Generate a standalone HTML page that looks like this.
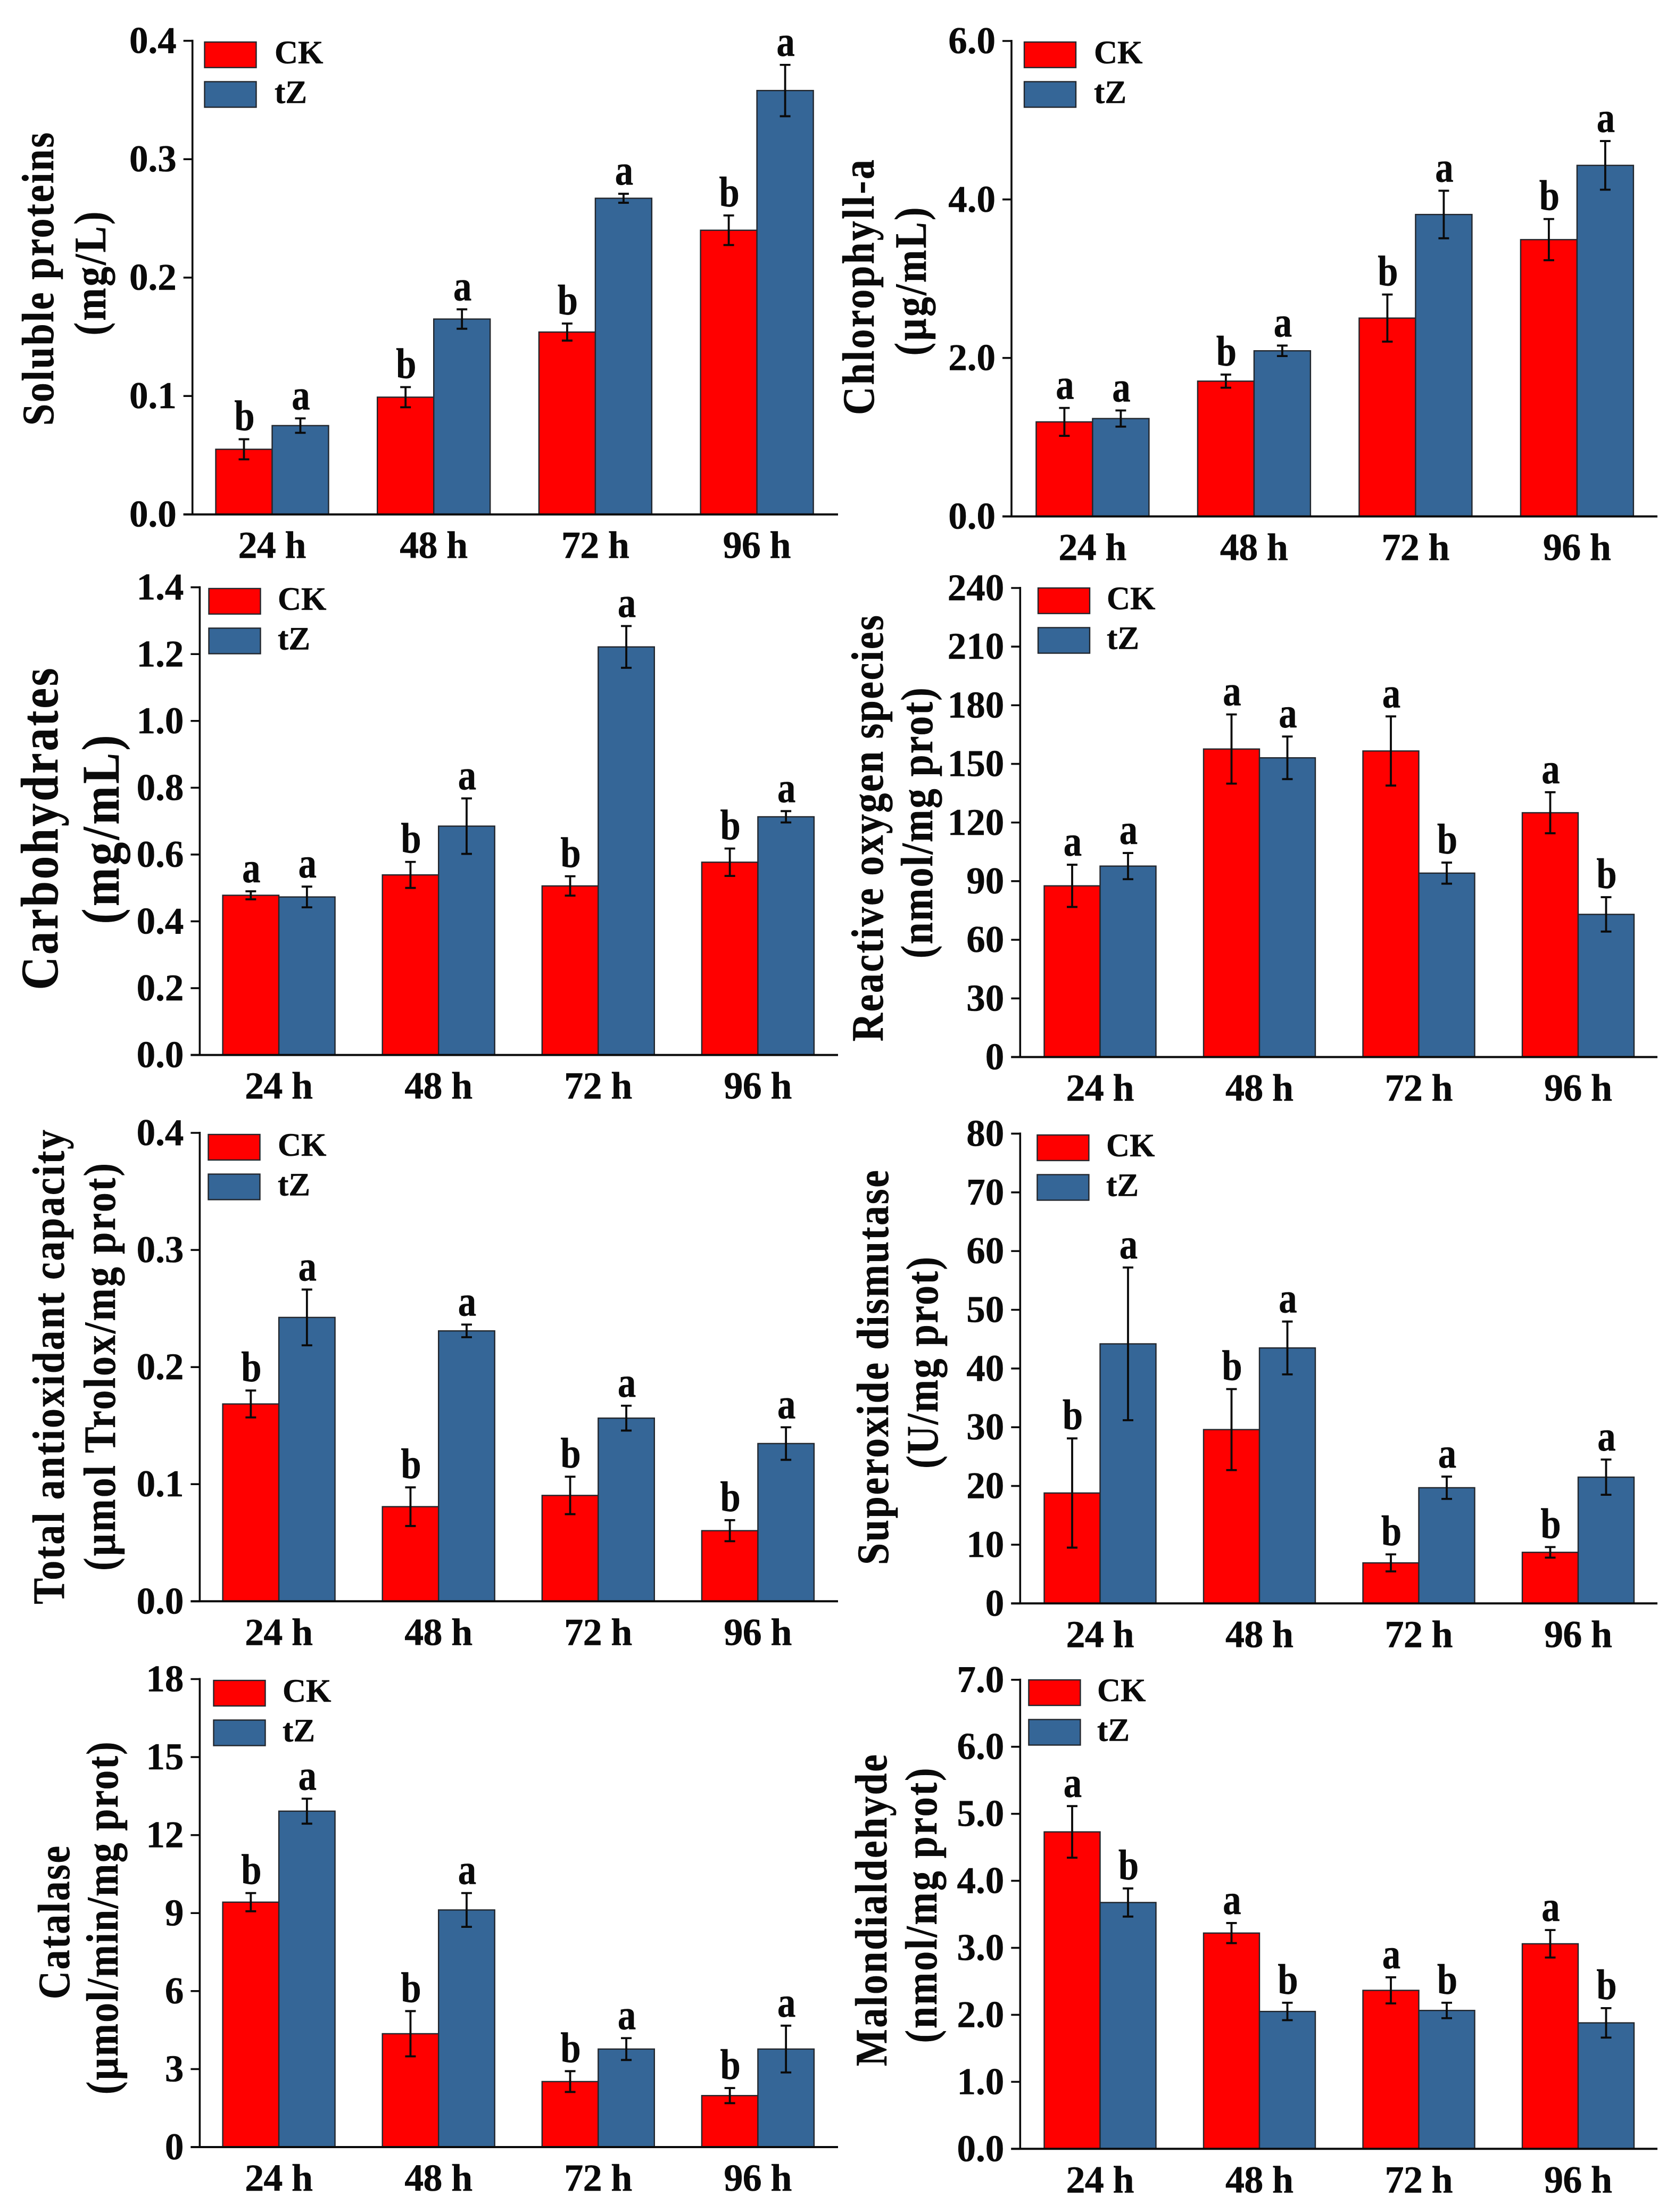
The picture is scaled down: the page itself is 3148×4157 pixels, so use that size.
<!DOCTYPE html>
<html lang="en">
<head>
<meta charset="utf-8">
<title>Eight bar charts comparing CK and tZ treatments at 24 to 96 h</title>
<style>
html,body{margin:0;padding:0;background:#fff;}
svg{display:block;}
text{font-family:"Liberation Serif","Times New Roman",serif;font-weight:bold;fill:#0a0a0a;stroke:#0a0a0a;stroke-width:0.5px;}
</style>
</head>
<body>
<svg id="figure" xmlns="http://www.w3.org/2000/svg" width="3148" height="4157" viewBox="0 0 3148 4157"></svg>
<script>
const categories = ['24 h', '48 h', '72 h', '96 h'];
const seriesNames = ['CK', 'tZ'];

const proteinTicks = ['0.0', '0.1', '0.2', '0.3', '0.4'];
const proteinCK = [0.055, 0.099, 0.154, 0.240];
const proteinTZ = [0.075, 0.165, 0.267, 0.358];
const proteinCKErr = [0.0085, 0.0085, 0.0072, 0.0125];
const proteinTZErr = [0.0061, 0.0082, 0.0038, 0.0217];
const proteinCKLetters = ['b', 'b', 'b', 'b'];
const proteinTZLetters = ['a', 'a', 'a', 'a'];

const chlorophyllTicks = ['0.0', '2.0', '4.0', '6.0'];
const chlorophyllCK = [1.193, 1.707, 2.503, 3.493];
const chlorophyllTZ = [1.235, 2.09, 3.81, 4.43];
const chlorophyllCKErr = [0.176, 0.083, 0.297, 0.26];
const chlorophyllTZErr = [0.102, 0.066, 0.30, 0.307];
const chlorophyllCKLetters = ['a', 'b', 'b', 'b'];
const chlorophyllTZLetters = ['a', 'a', 'a', 'a'];

const carbTicks = ['0.0', '0.2', '0.4', '0.6', '0.8', '1.0', '1.2', '1.4'];
const carbCK = [0.478, 0.539, 0.506, 0.577];
const carbTZ = [0.473, 0.685, 1.2215, 0.713];
const carbCKErr = [0.012, 0.039, 0.029, 0.041];
const carbTZErr = [0.031, 0.083, 0.0625, 0.017];
const carbCKLetters = ['a', 'b', 'b', 'b'];
const carbTZLetters = ['a', 'a', 'a', 'a'];

const rosTicks = ['0', '30', '60', '90', '120', '150', '180', '210', '240'];
const rosCK = [87.6, 157.6, 156.6, 125];
const rosTZ = [97.7, 153.1, 94.1, 73];
const rosCKErr = [10.8, 17.7, 17.7, 10.5];
const rosTZErr = [6.7, 10.9, 5.4, 8.8];
const rosCKLetters = ['a', 'a', 'a', 'a'];
const rosTZLetters = ['a', 'a', 'b', 'b'];

const taocTicks = ['0.0', '0.1', '0.2', '0.3', '0.4'];
const taocCK = [0.1685, 0.0808, 0.0904, 0.0603];
const taocTZ = [0.2424, 0.2309, 0.1564, 0.1347];
const taocCKErr = [0.0115, 0.0165, 0.016, 0.009];
const taocTZErr = [0.0238, 0.0054, 0.0106, 0.0139];
const taocCKLetters = ['b', 'b', 'b', 'b'];
const taocTZLetters = ['a', 'a', 'a', 'a'];

const sodTicks = ['0', '10', '20', '30', '40', '50', '60', '70', '80'];
const sodCK = [18.8, 29.6, 6.9, 8.7];
const sodTZ = [44.2, 43.5, 19.7, 21.5];
const sodCKErr = [9.3, 6.9, 1.45, 0.9];
const sodTZErr = [13, 4.5, 1.9, 3];
const sodCKLetters = ['b', 'b', 'b', 'b'];
const sodTZLetters = ['a', 'a', 'a', 'a'];

const catTicks = ['0', '3', '6', '9', '12', '15', '18'];
const catCK = [9.42, 4.36, 2.52, 1.98];
const catTZ = [12.92, 9.12, 3.77, 3.77];
const catCKErr = [0.35, 0.87, 0.4, 0.29];
const catTZErr = [0.48, 0.65, 0.42, 0.9];
const catCKLetters = ['b', 'b', 'b', 'b'];
const catTZLetters = ['a', 'a', 'a', 'a'];

const mdaTicks = ['0.0', '1.0', '2.0', '3.0', '4.0', '5.0', '6.0', '7.0'];
const mdaCK = [4.73, 3.22, 2.365, 3.06];
const mdaTZ = [3.676, 2.05, 2.065, 1.88];
const mdaCKErr = [0.385, 0.15, 0.195, 0.205];
const mdaTZErr = [0.21, 0.13, 0.115, 0.22];
const mdaCKLetters = ['a', 'a', 'a', 'a'];
const mdaTZLetters = ['b', 'b', 'b', 'b'];

const svgNS = 'http://www.w3.org/2000/svg';
const figure = document.getElementById('figure');
const RED = '#ff0000', BLUE = '#356697', EDGE = '#22262c', INK = '#0a0a0a';
const TITLE_SQUEEZE = 0.87;
const LETTER_SQUEEZE = 0.86;

function make(parent, tag, attrs, content) {
  const node = document.createElementNS(svgNS, tag);
  for (const k in attrs) node.setAttribute(k, attrs[k]);
  if (content !== undefined) node.textContent = content;
  parent.appendChild(node);
  return node;
}

function drawPanel(p) {
  const group = make(figure, 'g', {});
  
  

  const lo = parseFloat(p.ticks[0]);
  const hi = parseFloat(p.ticks[p.ticks.length - 1]);
  const yScale = function (v) { return p.bottom - (v - lo) / (hi - lo) * (p.bottom - p.top); };
  const xScale = function (i) { return p.barLeft + i * p.pitch; };

  p.title.forEach(function (t, i) {
    const title = make(group, 'text', {
      x: 0, y: 0, 'font-size': t.size, 'text-anchor': 'middle',
      textLength: t.len / TITLE_SQUEEZE, lengthAdjust: 'spacing',
      transform: 'translate(' + t.x + ' ' + t.cy + ') rotate(-90) scale(' + TITLE_SQUEEZE + ' 1)'
    }, t.text);
    
    
  });

  categories.forEach(function (cat, i) {
    [0, 1].forEach(function (s) {
      const vals = s === 0 ? p.ck : p.tz;
      const errs = s === 0 ? p.ckErr : p.tzErr;
      const lets = s === 0 ? p.ckLetters : p.tzLetters;
      const x = xScale(i) + s * p.barW;
      const yTop = yScale(vals[i]);
      const cx = x + p.barW / 2;
      const tag = seriesNames[s].toLowerCase() + '-' + cat.replace(' ', '-');

      const bar = make(group, 'rect', {
        x: x, y: yTop, width: p.barW, height: p.bottom - yTop,
        fill: s === 0 ? RED : BLUE, stroke: EDGE, 'stroke-width': 2.4
      });
      
      

      const eTop = yScale(vals[i] + errs[i]);
      const eBot = yScale(vals[i] - errs[i]);
      const err = make(group, 'path', {
        d: 'M' + (cx - 10) + ' ' + eTop + 'H' + (cx + 10) + 'M' + cx + ' ' + eTop + 'V' + eBot + 'M' + (cx - 10) + ' ' + eBot + 'H' + (cx + 10),
        fill: 'none', stroke: INK, 'stroke-width': 3.8
      });
      
      

      const letter = make(group, 'text', {
        x: 0, y: 0, 'font-size': 80, 'text-anchor': 'middle',
        transform: 'translate(' + (cx + 1) + ' ' + (eTop - 17) + ') scale(' + LETTER_SQUEEZE + ' 1)'
      }, lets[i]);
      
      
    });

    const label = make(group, 'text', {
      x: xScale(i) + p.barW, y: p.bottom + 82, 'font-size': 72,
      'text-anchor': 'middle', textLength: 128, lengthAdjust: 'spacing'
    }, cat);
    
    
  });

  const yAxis = make(group, 'line', { x1: p.axisX, x2: p.axisX, y1: p.top - 2, y2: p.bottom, stroke: INK, 'stroke-width': 3.6 });
  
  

  const xAxis = make(group, 'line', { x1: p.axisX - 17, x2: p.axisEnd, y1: p.bottom, y2: p.bottom, stroke: INK, 'stroke-width': 4 });
  
  

  p.ticks.forEach(function (tick) {
    const y = yScale(parseFloat(tick));
    const mark = make(group, 'line', { x1: p.axisX - 17, x2: p.axisX, y1: y, y2: y, stroke: INK, 'stroke-width': 3.6 });
    
    
    const label = make(group, 'text', {
      x: p.axisX - 30, y: y + 23, 'font-size': 71, 'text-anchor': 'end'
    }, tick);
    
    
  });

  seriesNames.forEach(function (series, s) {
    const top = p.legendY + s * 74.5;
    const swatch = make(group, 'rect', {
      x: p.legendX, y: top, width: 97, height: 48,
      fill: s === 0 ? RED : BLUE, stroke: EDGE, 'stroke-width': 2.4
    });
    
    
    const text = make(group, 'text', {
      x: p.legendTextX - 2, y: top + 40, 'font-size': 61
    }, series);
    
    
  });
}

const panels = [
  { name: 'soluble-proteins', ticks: proteinTicks, ck: proteinCK, tz: proteinTZ, ckErr: proteinCKErr, tzErr: proteinTZErr, ckLetters: proteinCKLetters, tzLetters: proteinTZLetters,
    axisX: 361.7, top: 76.7, bottom: 966.7, axisEnd: 1575, barLeft: 405.5, pitch: 303.7, barW: 106, legendX: 384.5, legendTextX: 518, legendY: 79,
    title: [{ text: 'Soluble proteins', x: 100, cy: 524.5, len: 551, size: 85 }, { text: '(mg/L)', x: 198, cy: 514, len: 233, size: 85 }] },
  { name: 'chlorophyll-a', ticks: chlorophyllTicks, ck: chlorophyllCK, tz: chlorophyllTZ, ckErr: chlorophyllCKErr, tzErr: chlorophyllTZErr, ckLetters: chlorophyllCKLetters, tzLetters: chlorophyllTZLetters,
    axisX: 1901, top: 77, bottom: 970.5, axisEnd: 3115, barLeft: 1947.4, pitch: 303.5, barW: 106, legendX: 1925, legendTextX: 2058, legendY: 79,
    title: [{ text: 'Chlorophyll-a', x: 1642, cy: 540, len: 480, size: 85 }, { text: '(\u00b5g/mL)', x: 1740, cy: 529, len: 279, size: 85 }] },
  { name: 'carbohydrates', ticks: carbTicks, ck: carbCK, tz: carbTZ, ckErr: carbCKErr, tzErr: carbTZErr, ckLetters: carbCKLetters, tzLetters: carbTZLetters,
    axisX: 375.4, top: 1103.7, bottom: 1982.6, axisEnd: 1575, barLeft: 418.6, pitch: 300.1, barW: 105.5, legendX: 392.5, legendTextX: 524, legendY: 1106,
    title: [{ text: 'Carbohydrates', x: 108, cy: 1558, len: 605, size: 100 }, { text: '(mg/mL)', x: 223, cy: 1559, len: 355, size: 100 }] },
  { name: 'reactive-oxygen-species', ticks: rosTicks, ck: rosCK, tz: rosTZ, ckErr: rosCKErr, tzErr: rosTZErr, ckLetters: rosCKLetters, tzLetters: rosTZLetters,
    axisX: 1917.3, top: 1105, bottom: 1986.5, axisEnd: 3115, barLeft: 1962.5, pitch: 299.5, barW: 105, legendX: 1951, legendTextX: 2082, legendY: 1105,
    title: [{ text: 'Reactive oxygen species', x: 1659, cy: 1556.7, len: 801, size: 85 }, { text: '(nmol/mg prot)', x: 1752, cy: 1546.7, len: 509, size: 85 }] },
  { name: 'total-antioxidant-capacity', ticks: taocTicks, ck: taocCK, tz: taocTZ, ckErr: taocCKErr, tzErr: taocTZErr, ckLetters: taocCKLetters, tzLetters: taocTZLetters,
    axisX: 375.4, top: 2129, bottom: 3009.3, axisEnd: 1575, barLeft: 418.6, pitch: 300.1, barW: 105.5, legendX: 391.5, legendTextX: 524, legendY: 2132,
    title: [{ text: 'Total antioxidant capacity', x: 120, cy: 2569, len: 892, size: 85 }, { text: '(\u00b5mol Trolox/mg prot)', x: 216, cy: 2569, len: 766, size: 85 }] },
  { name: 'superoxide-dismutase', ticks: sodTicks, ck: sodCK, tz: sodTZ, ckErr: sodCKErr, tzErr: sodTZErr, ckLetters: sodCKLetters, tzLetters: sodTZLetters,
    axisX: 1917.3, top: 2130.4, bottom: 3013.3, axisEnd: 3115, barLeft: 1962.5, pitch: 299.5, barW: 105, legendX: 1949.4, legendTextX: 2081, legendY: 2133,
    title: [{ text: 'Superoxide dismutase', x: 1669, cy: 2570, len: 742, size: 85 }, { text: '(U/mg prot)', x: 1762, cy: 2561, len: 398, size: 85 }] },
  { name: 'catalase', ticks: catTicks, ck: catCK, tz: catTZ, ckErr: catCKErr, tzErr: catTZErr, ckLetters: catCKLetters, tzLetters: catTZLetters,
    axisX: 375.4, top: 3155.5, bottom: 4035, axisEnd: 1575, barLeft: 418.6, pitch: 300.1, barW: 105.5, legendX: 401.5, legendTextX: 533, legendY: 3158,
    title: [{ text: 'Catalase', x: 130, cy: 3613, len: 288.5, size: 85 }, { text: '(\u00b5mol/min/mg prot)', x: 221, cy: 3604.7, len: 663, size: 85 }] },
  { name: 'malondialdehyde', ticks: mdaTicks, ck: mdaCK, tz: mdaTZ, ckErr: mdaCKErr, tzErr: mdaTZErr, ckLetters: mdaCKLetters, tzLetters: mdaTZLetters,
    axisX: 1917.3, top: 3156.8, bottom: 4038.3, axisEnd: 3115, barLeft: 1962.5, pitch: 299.5, barW: 105, legendX: 1933.4, legendTextX: 2064, legendY: 3157,
    title: [{ text: 'Malondialdehyde', x: 1666, cy: 3590, len: 586, size: 85 }, { text: '(nmol/mg prot)', x: 1760, cy: 3581, len: 517, size: 85 }] }
];

panels.forEach(drawPanel);
</script>
</body>
</html>
